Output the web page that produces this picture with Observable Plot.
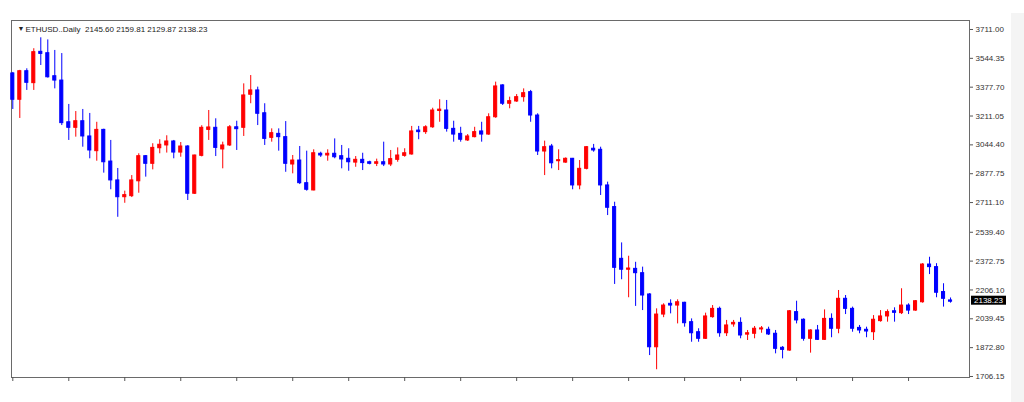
<!DOCTYPE html>
<html>
<head>
<meta charset="utf-8">
<script src="https://cdn.jsdelivr.net/npm/d3@7"></script>
<script src="https://cdn.jsdelivr.net/npm/@observablehq/plot@0.6"></script>
<style>
  html, body { margin: 0; padding: 0; background: #fff; }
  #chart svg { display: block; }
</style>
</head>
<body>
<div id="chart"></div>
<script>
const symbolText = "ETHUSD..Daily";
const headerValues = ["2145.60", "2159.81", "2129.87", "2138.23"];

const opens = [3457,3305,3470,3401,3582,3574,3441,3416,3175,3143,3181,3093,3008,3131,2948,2839,2742,2748,2834,2979,
  2935,3025,3041,3064,3000,3035,2762,2981,3131,3143,3018,3041,3146,3143,3334,3359,3227,3085,3108,3089,
  2931,2954,2823,2781,2993,2983,2993,2979,2964,2942,2958,2944,2935,2944,2931,2958,2981,2989,3127,3118,
  3146,3240,3243,3137,3108,3070,3089,3122,3104,3204,3388,3282,3295,3320,3349,3214,3006,3035,2950,2942,
  2964,2810,2906,3022,3016,2810,2685,2386,2323,2328,2303,2180,1875,2064,2126,2116,2132,2020,1962,1924,
  2049,2097,1956,2007,2016,1948,1953,1978,1976,1953,1872,1856,2078,2034,1924,1972,1918,2039,1982,2155,
  2097,1987,1976,1962,2026,2053,2083,2072,2116,2087,2135,2353,2338,2194,2145.60];
const highs = [3463,3475,3484,3600,3663,3651,3590,3572,3278,3237,3249,3226,3175,3135,3070,2908,2777,2867,2993,2983,
  3051,3074,3097,3070,3058,3040,2985,3155,3243,3195,3060,3156,3181,3397,3445,3378,3282,3137,3137,3179,
  2983,3035,3008,3016,3002,3016,3079,3041,3022,2977,2996,2950,2962,3060,3012,3027,3022,3151,3151,3155,
  3256,3305,3301,3181,3146,3104,3146,3175,3224,3407,3392,3320,3335,3368,3359,3224,3066,3047,3016,2969,
  2966,2954,3035,3047,3031,2829,2713,2478,2401,2366,2338,2185,2097,2126,2149,2149,2135,2039,1982,2072,
  2116,2107,2030,2030,2045,1972,1995,1995,1991,1972,1879,2087,2141,2039,1976,2001,2091,2068,2203,2174,
  2107,2001,1991,2058,2087,2091,2103,2213,2126,2145,2358,2395,2358,2242,2159.81];
const lows = [3249,3197,3359,3359,3503,3430,3368,3156,3070,3089,3031,2964,2950,2881,2785,2626,2707,2740,2765,2858,
  2900,2993,2997,2964,2973,2723,2758,2975,3070,2977,2906,3035,3012,3093,3282,3156,3041,3060,3008,2886,
  2877,2815,2777,2779,2972,2950,2964,2906,2892,2915,2896,2929,2919,2919,2919,2944,2973,2985,3074,3105,
  3140,3175,3118,3060,3060,3064,3085,3060,3100,3198,3272,3253,3290,3291,3175,2983,2867,2906,2896,2938,
  2785,2785,2900,3002,2752,2636,2238,2265,2161,2111,2087,1827,1745,2046,2068,2010,1991,1904,1904,1920,
  2043,1933,1937,1991,1924,1914,1924,1956,1943,1837,1808,1852,2010,1910,1841,1914,1914,1930,1953,2064,
  1962,1953,1930,1914,2020,2020,2020,2064,2064,2083,2130,2295,2161,2107,2129.87];
const closes = [3305,3470,3403,3580,3570,3435,3416,3170,3143,3181,3093,3012,3131,2944,2839,2742,2754,2839,2979,2935,
  3027,3045,3064,3000,3035,2762,2983,3143,3145,3027,3041,3146,3135,3330,3359,3224,3079,3112,3089,2935,
  2954,2823,2785,2996,2983,2993,2973,2960,2944,2958,2939,2935,2944,2931,2962,2983,2996,3122,3118,3146,
  3243,3248,3137,3104,3074,3093,3118,3104,3204,3382,3282,3297,3320,3343,3214,3006,3031,2938,2956,2964,
  2810,2906,3031,3012,2810,2681,2334,2323,2330,2303,2174,1875,2064,2116,2116,2135,2014,1956,1924,2053,
  2097,1956,2001,2016,1943,1956,1982,1984,1949,1866,1860,2083,2030,1924,1972,1918,2039,1982,2155,2097,
  1982,1972,1966,2034,2053,2078,2074,2116,2087,2141,2353,2338,2190,2155,2138.23];

const yTicks = [3711.00, 3544.35, 3377.70, 3211.05, 3044.40, 2877.75, 2711.10, 2539.40, 2372.75, 2206.10, 2039.45, 1872.80, 1706.15];
const xTicks = [0, 8, 16, 24, 32, 40, 48, 56, 64, 72, 80, 88, 96, 104, 112, 120, 128];

const candles = opens.map((o, i) => ({i, o, h: highs[i], l: lows[i], c: closes[i]}));
const UP = "#ff0000", DOWN = "#0000ff";
const col = d => (d.c >= d.o ? UP : DOWN);
const lastClose = closes[closes.length - 1];
const fmt = d3.format(".2f");

function extras(index, scales, values, dim) {
  const g = d3.create("svg:g");
  // faint gray strip at far right
  g.append("rect").attr("x", dim.width - 13).attr("y", 13).attr("width", 13).attr("height", dim.height - 13).attr("fill", "#f4f4f4");
  // last price label
  const y = scales.y(lastClose);
  const x0 = dim.width - dim.marginRight + 2;
  g.append("rect").attr("x", x0).attr("y", y - 5.5).attr("width", 35).attr("height", 9).attr("fill", "#000");
  g.append("text").attr("x", x0 + 3).attr("y", y - 1).attr("dy", "0.35em")
    .attr("text-anchor", "start")
    .attr("fill", "#fff").attr("font-size", 8).text(fmt(lastClose));
  return g.node();
}

const chart = Plot.plot({
  width: 1024,
  height: 402,
  marginLeft: 11,
  marginRight: 55,
  marginTop: 20,
  marginBottom: 25,
  style: {fontFamily: "'Liberation Sans', Arial, sans-serif", fontSize: "8px", background: "#fff", color: "#333"},
  x: {type: "linear", domain: [-0.186, 136.71], axis: null},
  y: {domain: [1700.3, 3763], axis: null},
  color: {type: "identity"},
  marks: [
    extras,
    Plot.frame({stroke: "#6a6a6a"}),
    Plot.ruleX(candles, {x: "i", y1: "l", y2: "h", stroke: col, strokeWidth: 1}),
    Plot.rect(candles, {
      x1: d => d.i - 0.22, x2: d => d.i + 0.22,
      y1: d => Math.min(d.o, d.c), y2: d => Math.max(d.o, d.c),
      fill: col, stroke: col, strokeWidth: 1
    }),
    Plot.axisY({anchor: "right", ticks: yTicks, tickFormat: fmt, tickSize: 3, tickPadding: 3, label: null, stroke: "#555", fill: "#333"}),
    Plot.axisX({anchor: "bottom", ticks: xTicks, tickFormat: () => "", tickSize: 4, label: null, stroke: "#555"}),
    Plot.text(["▼"], {frameAnchor: "top-left", text: d => d, dx: 6, dy: 8.5, lineAnchor: "middle", textAnchor: "start", fontSize: 7, fill: "#222"}),
    Plot.text([symbolText + "  " + headerValues.join(" ")], {frameAnchor: "top-left", text: d => d, dx: 14, dy: 8.5, lineAnchor: "middle", textAnchor: "start", fontSize: 8, fill: "#222"})
  ]
});
document.getElementById("chart").appendChild(chart);
</script>
</body>
</html>
